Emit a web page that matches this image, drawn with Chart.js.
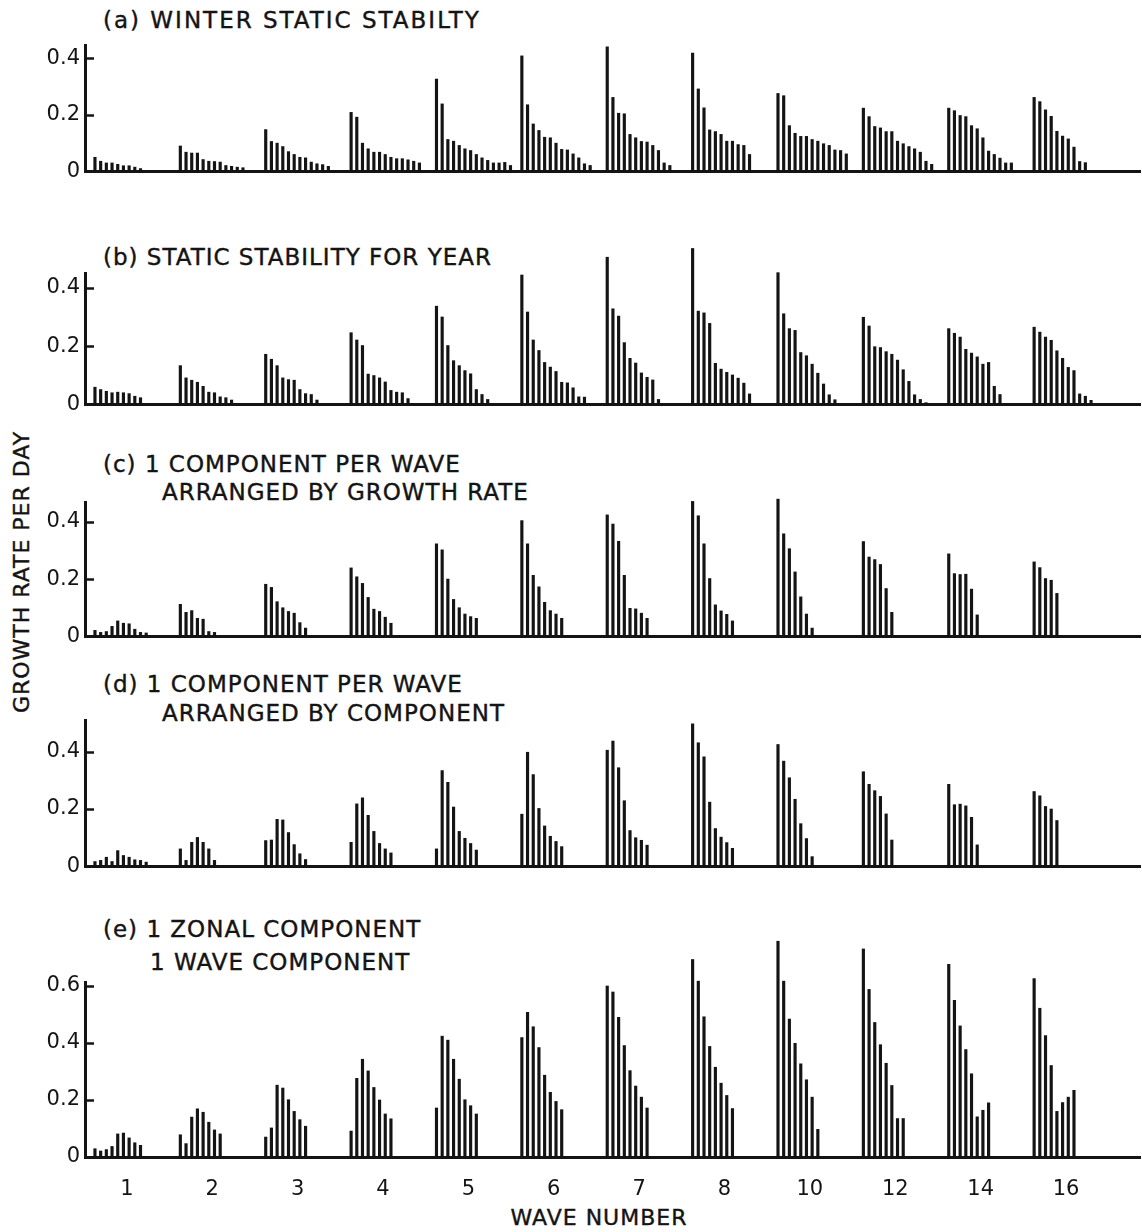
<!DOCTYPE html>
<html>
<head>
<meta charset="utf-8">
<title>Growth rate per day by wave number</title>
<script src="https://cdn.jsdelivr.net/npm/chart.js@4"></script>
<style>
  body { margin: 0; background: #fff; }
  #page { position: relative; width: 1142px; height: 1232px; overflow: hidden;
          font-family: 'DejaVu Sans', sans-serif; color: #141414; }
  .cap { position: absolute; white-space: nowrap; line-height: 1; transform: translateY(-50%);
         font-size: 23px; letter-spacing: 1px; -webkit-text-stroke: 0.4px #141414; }
  #ylab { position: absolute; left: 22px; top: 572px; white-space: nowrap; line-height: 1;
          font-size: 22px; letter-spacing: 1px; -webkit-text-stroke: 0.4px #141414;
          transform: translate(-50%, -50%) rotate(-90deg); }
  #xlab { position: absolute; left: 599px; top: 1218px; white-space: nowrap; line-height: 1;
          font-size: 22px; letter-spacing: 1px; -webkit-text-stroke: 0.4px #141414;
          transform: translate(-50%, -50%); }
</style>
</head>
<body>
<div id="page">
  <div class="cap" style="left:103px;top:20px;letter-spacing:2px">(a) WINTER STATIC STABILTY</div>
  <div class="cap" style="left:103px;top:257px">(b) STATIC STABILITY FOR YEAR</div>
  <div class="cap" style="left:103px;top:464px">(c) 1 COMPONENT PER WAVE</div>
  <div class="cap" style="left:162px;top:492px">ARRANGED BY GROWTH RATE</div>
  <div class="cap" style="left:103px;top:684px">(d) 1 COMPONENT PER WAVE</div>
  <div class="cap" style="left:162px;top:713px">ARRANGED BY COMPONENT</div>
  <div class="cap" style="left:103px;top:929px">(e) 1 ZONAL COMPONENT</div>
  <div class="cap" style="left:150px;top:962px">1 WAVE COMPONENT</div>
  <div id="ylab">GROWTH RATE PER DAY</div>
  <div id="xlab">WAVE NUMBER</div>
</div>
<script>
const waveNumbers = [1, 2, 3, 4, 5, 6, 7, 8, 10, 12, 14, 16];

const ticksLow = [0, 0.2, 0.4];
const ticksHigh = [0, 0.2, 0.4, 0.6];

// (a) winter static stability, one list of growth rates per wave number
const winterRates = [
  [0.05, 0.036, 0.03, 0.03, 0.025, 0.02, 0.02, 0.015, 0.01],
  [0.09, 0.068, 0.065, 0.065, 0.042, 0.036, 0.035, 0.033, 0.021, 0.018, 0.015, 0.013],
  [0.148, 0.106, 0.1, 0.088, 0.07, 0.06, 0.05, 0.048, 0.033, 0.027, 0.024, 0.018],
  [0.209, 0.192, 0.1, 0.08, 0.068, 0.068, 0.06, 0.05, 0.045, 0.045, 0.041, 0.036, 0.03],
  [0.327, 0.239, 0.113, 0.107, 0.092, 0.08, 0.074, 0.06, 0.048, 0.039, 0.03, 0.03, 0.032, 0.021],
  [0.409, 0.236, 0.168, 0.145, 0.121, 0.119, 0.1, 0.078, 0.076, 0.062, 0.048, 0.027, 0.021],
  [0.441, 0.262, 0.206, 0.204, 0.131, 0.119, 0.106, 0.104, 0.092, 0.074, 0.03, 0.021],
  [0.419, 0.292, 0.225, 0.147, 0.141, 0.131, 0.107, 0.107, 0.095, 0.092, 0.06],
  [0.276, 0.268, 0.162, 0.135, 0.124, 0.124, 0.113, 0.107, 0.098, 0.092, 0.076, 0.074, 0.062],
  [0.224, 0.194, 0.159, 0.154, 0.141, 0.141, 0.107, 0.098, 0.088, 0.08, 0.068, 0.036, 0.025],
  [0.224, 0.215, 0.198, 0.194, 0.162, 0.151, 0.119, 0.072, 0.06, 0.047, 0.03, 0.03],
  [0.262, 0.247, 0.218, 0.195, 0.142, 0.125, 0.115, 0.086, 0.035, 0.031]
];

// (b) static stability for the year
const yearRates = [
  [0.059, 0.051, 0.045, 0.04, 0.042, 0.04, 0.037, 0.028, 0.023],
  [0.133, 0.091, 0.083, 0.076, 0.062, 0.042, 0.04, 0.026, 0.023, 0.015],
  [0.172, 0.155, 0.133, 0.091, 0.085, 0.083, 0.051, 0.037, 0.034, 0.015],
  [0.246, 0.221, 0.202, 0.104, 0.099, 0.091, 0.077, 0.048, 0.042, 0.04, 0.02],
  [0.337, 0.3, 0.202, 0.15, 0.133, 0.116, 0.105, 0.051, 0.034, 0.017],
  [0.444, 0.317, 0.221, 0.185, 0.144, 0.128, 0.113, 0.076, 0.074, 0.057, 0.026, 0.025],
  [0.505, 0.328, 0.303, 0.212, 0.158, 0.142, 0.108, 0.093, 0.084, 0.017],
  [0.535, 0.32, 0.314, 0.278, 0.141, 0.121, 0.11, 0.101, 0.09, 0.073, 0.036],
  [0.452, 0.311, 0.26, 0.254, 0.178, 0.167, 0.138, 0.107, 0.07, 0.033, 0.016],
  [0.299, 0.269, 0.198, 0.195, 0.181, 0.172, 0.152, 0.119, 0.079, 0.033, 0.017, 0.006],
  [0.26, 0.244, 0.231, 0.189, 0.176, 0.163, 0.138, 0.144, 0.062, 0.034],
  [0.265, 0.248, 0.231, 0.22, 0.184, 0.158, 0.127, 0.116, 0.036, 0.028, 0.014]
];

// (c) one component per wave, arranged by growth rate
const growthOrderRates = [
  [0.021, 0.014, 0.017, 0.035, 0.054, 0.046, 0.044, 0.025, 0.014, 0.012],
  [0.112, 0.084, 0.09, 0.063, 0.06, 0.017, 0.014],
  [0.182, 0.171, 0.121, 0.1, 0.087, 0.081, 0.048, 0.029],
  [0.239, 0.208, 0.185, 0.136, 0.095, 0.087, 0.067, 0.046],
  [0.323, 0.302, 0.2, 0.129, 0.1, 0.078, 0.069, 0.063],
  [0.404, 0.323, 0.213, 0.173, 0.119, 0.09, 0.078, 0.063],
  [0.424, 0.392, 0.332, 0.213, 0.098, 0.096, 0.081, 0.063],
  [0.471, 0.421, 0.323, 0.202, 0.11, 0.089, 0.077, 0.054],
  [0.479, 0.358, 0.306, 0.225, 0.138, 0.078, 0.029],
  [0.331, 0.277, 0.268, 0.251, 0.167, 0.084],
  [0.288, 0.219, 0.216, 0.217, 0.165, 0.075],
  [0.26, 0.24, 0.202, 0.196, 0.15]
];

// (d) one component per wave, arranged by component
const componentOrderRates = [
  [0.017, 0.021, 0.032, 0.017, 0.055, 0.038, 0.032, 0.023, 0.021, 0.015],
  [0.061, 0.021, 0.084, 0.101, 0.084, 0.061, 0.021],
  [0.09, 0.092, 0.164, 0.162, 0.118, 0.076, 0.044, 0.024],
  [0.084, 0.218, 0.239, 0.178, 0.122, 0.08, 0.061, 0.047],
  [0.061, 0.334, 0.293, 0.207, 0.122, 0.098, 0.08, 0.057],
  [0.182, 0.398, 0.32, 0.202, 0.141, 0.105, 0.087, 0.069],
  [0.405, 0.437, 0.344, 0.229, 0.125, 0.1, 0.091, 0.074],
  [0.497, 0.431, 0.382, 0.224, 0.132, 0.102, 0.083, 0.063],
  [0.425, 0.367, 0.309, 0.234, 0.149, 0.097, 0.034],
  [0.33, 0.286, 0.264, 0.244, 0.183, 0.092],
  [0.286, 0.215, 0.217, 0.211, 0.171, 0.075],
  [0.261, 0.246, 0.209, 0.2, 0.16]
];

// (e) one zonal component, one wave component
const zonalWaveRates = [
  [0.029, 0.021, 0.026, 0.037, 0.081, 0.084, 0.067, 0.05, 0.041],
  [0.078, 0.047, 0.14, 0.169, 0.157, 0.122, 0.095, 0.081],
  [0.07, 0.102, 0.252, 0.242, 0.201, 0.16, 0.131, 0.108],
  [0.091, 0.276, 0.343, 0.302, 0.244, 0.2, 0.151, 0.134],
  [0.172, 0.424, 0.41, 0.343, 0.273, 0.201, 0.18, 0.151],
  [0.419, 0.508, 0.457, 0.384, 0.287, 0.227, 0.195, 0.166],
  [0.6, 0.579, 0.49, 0.391, 0.303, 0.249, 0.21, 0.172],
  [0.693, 0.617, 0.492, 0.388, 0.315, 0.259, 0.216, 0.17],
  [0.757, 0.617, 0.484, 0.399, 0.327, 0.271, 0.21, 0.097],
  [0.73, 0.588, 0.472, 0.394, 0.329, 0.251, 0.135, 0.135],
  [0.676, 0.55, 0.46, 0.377, 0.292, 0.141, 0.164, 0.19],
  [0.626, 0.522, 0.426, 0.321, 0.16, 0.191, 0.21, 0.234]
];

const INK = '#141414';
const FONT = { family: "'DejaVu Sans', sans-serif", size: 21 };

// every wave gets 15 bar slots along a shared linear x scale
const SLOTS_PER_WAVE = 15;
const X_MIN = -1.75;
const X_MAX = 183.6;
const LABEL_SLOT = 5.6;

// page placement of each panel: top of the y axis line, zero line, pixels per unit
const panels = [
  { rates: winterRates, ticks: ticksLow, axisTop: 45, base: 173, unitPx: 286 },
  { rates: yearRates, ticks: ticksLow, axisTop: 273, base: 406, unitPx: 295 },
  { rates: growthOrderRates, ticks: ticksLow, axisTop: 502, base: 638, unitPx: 290 },
  { rates: componentOrderRates, ticks: ticksLow, axisTop: 720, base: 868, unitPx: 290 },
  { rates: zonalWaveRates, ticks: ticksHigh, axisTop: 982, base: 1157, unitPx: 285 }
];

// short tick marks pointing into the plot from the y axis
const innerTicks = {
  id: 'innerTicks',
  afterDraw(chart) {
    const { ctx, chartArea, scales: { y } } = chart;
    ctx.save();
    ctx.strokeStyle = INK;
    ctx.lineWidth = 2.5;
    y.ticks.forEach(t => {
      if (t.value === 0) return;
      const py = Math.round(y.getPixelForValue(t.value)) + 0.5;
      ctx.beginPath();
      ctx.moveTo(chartArea.left, py);
      ctx.lineTo(chartArea.left + 9, py);
      ctx.stroke();
    });
    ctx.restore();
  }
};

const page = document.getElementById('page');

panels.forEach((p, i) => {
  const last = i === panels.length - 1;
  const headroom = 70;
  const below = last ? 72 : 16;
  const plotH = p.base - p.axisTop;

  const canvas = document.createElement('canvas');
  canvas.width = 1142;
  canvas.height = headroom + plotH + below;
  canvas.style.cssText = `position:absolute;left:0;top:${p.axisTop - headroom}px;` +
    `width:1142px;height:${canvas.height}px`;
  page.appendChild(canvas);

  const points = p.rates.flatMap((bars, g) =>
    bars.map((v, j) => ({ x: g * SLOTS_PER_WAVE + j, y: v })));

  new Chart(canvas, {
    type: 'bar',
    data: {
      datasets: [{
        data: points,
        backgroundColor: INK,
        barThickness: 2.5,
        clip: false
      }]
    },
    options: {
      responsive: false,
      animation: false,
      devicePixelRatio: 1,
      events: [],
      layout: { padding: { top: headroom, right: 2, bottom: last ? 0 : below, left: 0 } },
      plugins: { legend: { display: false }, tooltip: { enabled: false } },
      scales: {
        x: {
          type: 'linear',
          min: X_MIN,
          max: X_MAX,
          offset: false,
          grid: { display: false, drawTicks: false },
          border: { color: INK, width: 3 },
          afterBuildTicks: s => {
            s.ticks = waveNumbers.map((w, g) => ({ value: g * SLOTS_PER_WAVE + LABEL_SLOT }));
          },
          afterFit: s => { s.height = last ? below : 0; },
          ticks: {
            display: last,
            autoSkip: false,
            maxRotation: 0,
            padding: 20,
            color: INK,
            font: FONT,
            callback: (v, idx) => String(waveNumbers[idx])
          }
        },
        y: {
          min: 0,
          max: plotH / p.unitPx,
          grid: { display: false, drawTicks: false },
          border: { color: INK, width: 3 },
          afterBuildTicks: s => { s.ticks = p.ticks.map(v => ({ value: v })); },
          afterFit: s => { s.width = 85; },
          ticks: {
            padding: 5,
            color: INK,
            font: FONT,
            callback: v => (v === 0 ? '0' : v.toFixed(1))
          }
        }
      }
    },
    plugins: [innerTicks]
  });
});
</script>
</body>
</html>
